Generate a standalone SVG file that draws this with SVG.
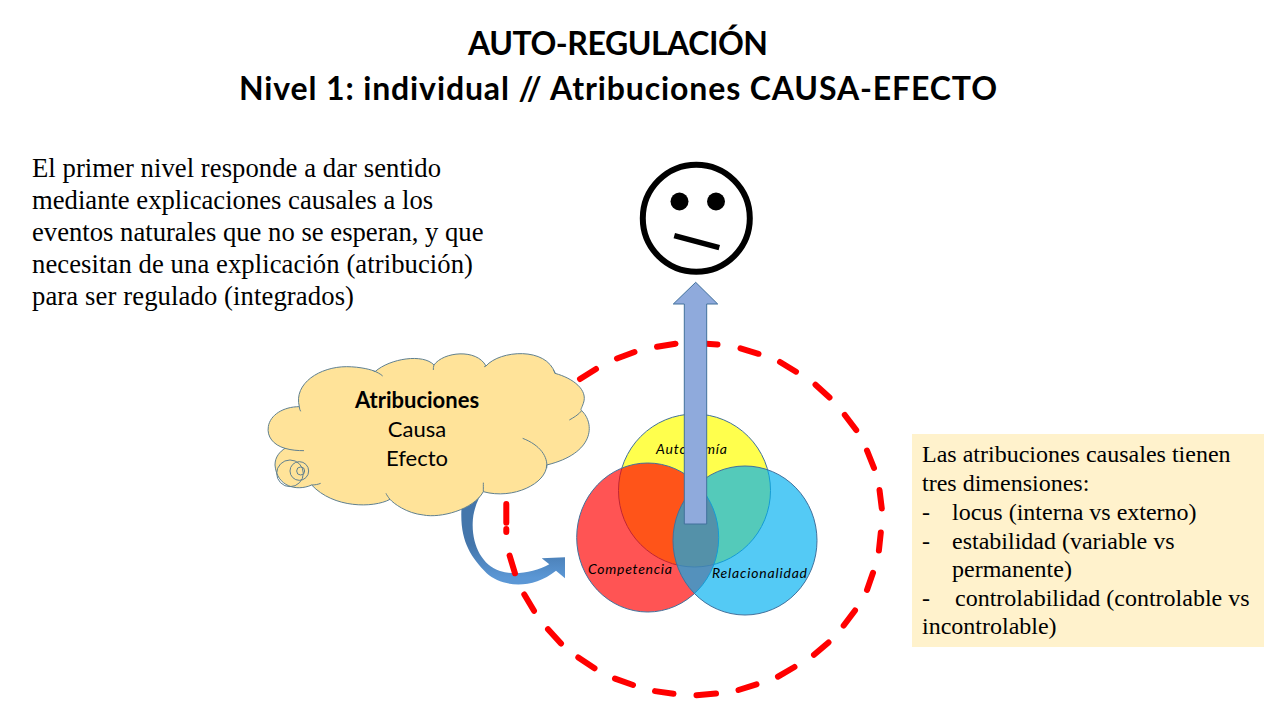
<svg xmlns="http://www.w3.org/2000/svg" width="1280" height="720" viewBox="0 0 1280 720">
<style>
.t{font-family:"Lato","Liberation Sans",sans-serif;font-weight:700;font-size:32px;fill:#000;text-anchor:middle}
.s{font-family:"Liberation Serif",serif;font-size:26.67px;fill:#000}
.b{font-family:"Liberation Serif",serif;font-size:24px;fill:#000}
.c{font-family:"Lato","Liberation Sans",sans-serif;font-size:22px;fill:#000;text-anchor:middle}
.v{font-family:"Lato","Liberation Sans",sans-serif;font-style:italic;font-size:14px;fill:#000}
.o{stroke:#41719c;stroke-width:1}
</style>
<defs>
<linearGradient id="g" gradientUnits="userSpaceOnUse" x1="0" y1="545" x2="0" y2="578"><stop offset="0" stop-color="#4476ab"/><stop offset="1" stop-color="#5b97d5"/></linearGradient>
</defs>
<rect width="1280" height="720" fill="#fff"/>
<g id="title">
<text class="t" x="618" y="55" textLength="300" lengthAdjust="spacing">AUTO-REGULACIÓN</text>
<text class="t" x="618" y="100" textLength="758" lengthAdjust="spacing">Nivel 1: individual // Atribuciones CAUSA-EFECTO</text>
</g>
<g id="intro">
<text class="s" x="32" y="177" textLength="409" lengthAdjust="spacing">El primer nivel responde a dar sentido</text>
<text class="s" x="32" y="209">mediante explicaciones causales a los</text>
<text class="s" x="32" y="241">eventos naturales que no se esperan, y que</text>
<text class="s" x="32" y="273" textLength="441" lengthAdjust="spacing">necesitan de una explicación (atribución)</text>
<text class="s" x="32" y="305" textLength="322" lengthAdjust="spacing">para ser regulado (integrados)</text>
</g>
<g id="connectors">
<path d="M461.7,505 C459,540 470,556 486.7,573.300 C502,587 532,590 556,570.700 L565,578.300 L565,557.300 L541.700,558.300 L549.300,564.300 C535,572 515,576 500,571 C482,565 472,545 472.700,523 C473,510 478,498 485,488 Z" fill="url(#g)"/>
</g>
<g id="venn">
<ellipse class="o" cx="694.5" cy="490.5" rx="76" ry="76.5" fill="#ffff4d"/>
<text class="v" x="656" y="454" textLength="71" lengthAdjust="spacing">Autonomía</text>
<ellipse class="o" cx="647.7" cy="537.5" rx="71" ry="74.5" fill="#ff0000" fill-opacity=".67"/>
<ellipse class="o" cx="745" cy="540.5" rx="72" ry="74.5" fill="#00b0f0" fill-opacity=".67"/>
<text class="v" x="588" y="574" textLength="84" lengthAdjust="spacing">Competencia</text>
<text class="v" x="712" y="578" textLength="95" lengthAdjust="spacing">Relacionalidad</text>
</g>
<g id="dashed-circle">
<path fill="none" stroke="#ff0000" stroke-width="6" stroke-linecap="round" d="M580,379 L596,369 M617,358.500 L634.500,352 M657,346.700 L675.500,343.800 M699,343.300 L717.500,344.600 M740.500,348.400 L758.500,353.800 M780,362 L796,371.700 M815.500,384.800 L829.500,397.500 M844.800,415 L856.200,430 M867,450.500 L874,468 M879.500,490 L881.800,508.500 M880.800,532.500 L878.900,550.500 M873,572.800 L867,590 M855,610.500 L843.700,625.500 M828.500,642.500 L814,654.800 M794.500,667 L778,676.700 M756.500,684.300 L738.500,690 M716,693.500 L696.500,695.200 M673.500,693.800 L655,691.100 M633,685 L615,678.600 M594.500,668.300 L578.300,657.400 M561,643.500 L548,629.200 M534,610.800 L524.300,594.500 M515,573.300 L509.600,555.500 M506.300,504 L506.300,522.800 M506.300,529 L506.300,532"/>
</g>
<g id="cloud">
<g transform="translate(260 340) scale(.33333)" stroke="#5f7f8f" stroke-width="3" fill="none">
<path fill="#ffe399" d="M118,200 C100,130 180,80 260,80 C300,80 340,90 345,95 C390,55 490,40 522,75 C550,35 650,25 678,78 C720,30 860,20 885,100 C940,115 985,150 970,190 C965,205 960,210 965,212 C1005,250 1005,340 860,375 C860,430 760,480 670,455 C640,510 540,535 490,525 C440,520 400,490 390,478 C340,505 220,505 155,435 C110,455 50,440 45,375 C45,350 60,335 75,325 C40,315 20,290 25,260 C30,225 70,200 118,200 Z"/>
<path d="M75,325 C95,331 115,332 132,332 M340,92 C350,96 362,102 368,108 M522,75 C520,80 520,85 520,90 M678,78 C675,80 673,80 672,80 M885,100 C885,95 882,92 880,90 M965,212 C955,225 940,233 928,240 M788,295 C840,315 865,350 860,385 M670,455 C670,445 670,435 670,428 M390,478 C385,472 380,465 378,460 M155,435 C165,435 175,433 182,430 M118,200 C118,206 120,210 122,214"/>
<ellipse cx="90" cy="400" rx="40" ry="40"/>
<circle cx="118" cy="393" r="28"/>
<circle cx="122" cy="393" r="12"/>
</g>
<text class="c" x="417" y="408" style="font-weight:700">Atribuciones</text>
<text class="c" x="417" y="437">Causa</text>
<text class="c" x="417" y="466">Efecto</text>
</g>
<g id="up-arrow">
<path d="M684.3,524 L684.3,304 L673.3,304 L695.7,282.300 L717.700,304 L706.700,304 L706.700,524 Z" fill="#8faadc" stroke="#41719c" stroke-width="1"/>
</g>
<g id="face" fill="none" stroke="#000">
<circle cx="696.3" cy="218.3" r="53.5" stroke-width="6"/>
<circle cx="679.5" cy="201.5" r="9" fill="#000" stroke="none"/>
<circle cx="716" cy="201.5" r="9" fill="#000" stroke="none"/>
<path d="M674.3,235.7 L719.3,247.7" stroke-width="5.5"/>
</g>
<g id="dimensions">
<rect x="912" y="434" width="352" height="213" fill="#fff2cc"/>
<text class="b" x="922" y="462">Las atribuciones causales tienen</text>
<text class="b" x="922" y="491">tres dimensiones:</text>
<text class="b" x="922" y="520">-</text><text class="b" x="952" y="520">locus (interna vs externo)</text>
<text class="b" x="922" y="549">-</text><text class="b" x="952" y="549">estabilidad (variable vs</text>
<text class="b" x="952" y="577">permanente)</text>
<text class="b" x="922" y="606">-</text><text class="b" x="955" y="606">controlabilidad (controlable vs</text>
<text class="b" x="922" y="634">incontrolable)</text>
</g>
</svg>
